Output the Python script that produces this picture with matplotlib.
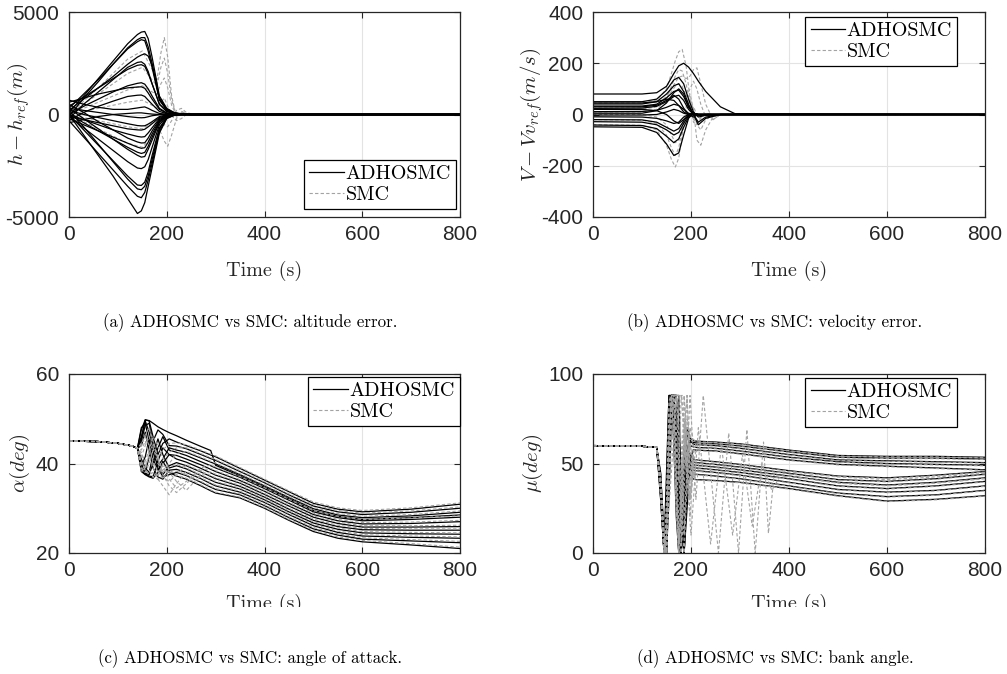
import matplotlib.pyplot as plt
from matplotlib.patches import Rectangle

plt.rcParams['font.family'] = 'Liberation Sans'
plt.rcParams['mathtext.fontset'] = 'cm'
plt.rcParams['axes.unicode_minus'] = False

# ---------------- altitude error (m) ----------------
t_alt = [0, 30, 60, 90, 120, 140, 148, 155, 162, 170, 185, 200, 215, 230, 250, 270, 800]
alt_adhosmc = [
    [100, 900, 1750, 2600, 3450, 3900, 4020, 4050, 3700, 2800, 900, 300, 100, 30, 0, 0, 0],
    [-100, 800, 1600, 2450, 3250, 3650, 3750, 3750, 3300, 2500, 750, 250, 80, 20, 0, 0, 0],
    [300, 1000, 1700, 2450, 3200, 3550, 3650, 3600, 3100, 2300, 700, 200, 60, 10, 0, 0, 0],
    [200, 750, 1300, 1850, 2450, 2800, 2900, 2960, 2850, 2400, 800, 250, 80, 20, 0, 0, 0],
    [-200, 500, 1100, 1700, 2300, 2540, 2570, 2450, 2100, 1500, 500, 150, 40, 0, 0, 0, 0],
    [400, 850, 1300, 1750, 2200, 2400, 2430, 2350, 2000, 1500, 500, 150, 40, 0, 0, 0, 0],
    [0, 400, 750, 1100, 1400, 1520, 1550, 1480, 1250, 900, 300, 80, 20, 0, 0, 0, 0],
    [600, 800, 1000, 1150, 1300, 1340, 1350, 1280, 1050, 750, 250, 60, 20, 0, 0, 0, 0],
    [-300, 100, 400, 650, 880, 940, 950, 880, 700, 500, 150, 40, 10, 0, 0, 0, 0],
    [700, 500, 350, 250, 250, 320, 350, 370, 300, 200, 50, 10, 0, 0, 0, 0, 0],
    [-400, -250, -100, 0, 50, 80, 80, 60, 40, 20, 0, 0, 0, 0, 0, 0, 0],
    [300, 200, 100, 0, -100, -150, -160, -150, -110, -60, -10, 0, 0, 0, 0, 0, 0],
    [200, 0, -150, -300, -450, -540, -555, -550, -470, -350, -100, -20, 0, 0, 0, 0, 0],
    [-100, -250, -400, -550, -700, -750, -760, -720, -600, -450, -150, -30, 0, 0, 0, 0, 0],
    [0, -250, -500, -750, -950, -1070, -1100, -1080, -900, -650, -200, -50, -10, 0, 0, 0, 0],
    [500, 100, -350, -750, -1150, -1340, -1390, -1380, -1150, -800, -250, -60, -10, 0, 0, 0, 0],
    [-200, -500, -800, -1100, -1400, -1590, -1650, -1620, -1350, -950, -300, -70, -10, 0, 0, 0, 0],
    [0, -400, -800, -1200, -1600, -1840, -1900, -1850, -1550, -1100, -350, -80, -10, 0, 0, 0, 0],
    [300, -200, -700, -1200, -1700, -1990, -2080, -2050, -1700, -1250, -400, -90, -20, 0, 0, 0, 0],
    [-100, -650, -1200, -1750, -2300, -2610, -2640, -2550, -2200, -1600, -500, -100, -20, 0, 0, 0, 0],
    [0, -750, -1500, -2250, -3000, -3440, -3460, -3300, -2800, -2000, -650, -150, -30, 0, 0, 0, 0],
    [200, -600, -1450, -2300, -3150, -3630, -3670, -3500, -3000, -2200, -700, -150, -30, 0, 0, 0, 0],
    [-300, -1100, -1900, -2700, -3500, -3990, -4060, -3800, -3200, -2400, -800, -180, -30, 0, 0, 0, 0],
    [0, -1000, -2000, -3000, -4100, -4830, -4700, -4300, -3500, -2600, -900, -200, -40, 0, 0, 0, 0],
]
t_alt_smc = [0, 60, 120, 150, 170, 180, 188, 195, 202, 210, 220, 230, 240, 255, 800]
alt_smc = [
    [0, 1300, 2700, 3100, 2200, 1700, 3000, 3750, 2800, 900, -150, 150, 50, 0, 0],
    [0, 1000, 2000, 2300, 1700, 1400, 2300, 2750, 2000, 700, -100, 100, 30, 0, 0],
    [0, 600, 1200, 1400, 1100, 1000, 1500, 1780, 1300, 450, -50, 80, 20, 0, 0],
    [0, -700, -1400, -1600, -1100, -600, -900, -1300, -1550, -1000, -200, 150, 0, 0, 0],
    [0, -300, -600, -700, -400, -200, -300, -500, -600, -300, 200, 300, 100, 0, 0],
    [0, 300, 600, 700, 450, 300, 600, 800, 400, 0, -300, -200, 0, 0, 0],
]

# ---------------- velocity error (m/s) ----------------
t_vel = [0, 100, 130, 150, 165, 175, 185, 195, 205, 215, 230, 260, 290, 800]
vel_adhosmc = [
    [80, 80, 85, 110, 160, 190, 200, 185, 160, 130, 90, 30, 3, 0],
    [50, 50, 60, 95, 135, 145, 120, 60, 10, -10, -3, 0, 0, 0],
    [41, 41, 50, 80, 112, 120, 90, 40, 0, -30, -10, 0, 0, 0],
    [33, 33, 40, 65, 90, 95, 70, 30, 5, 0, 0, 0, 0, 0],
    [24, 25, 32, 50, 70, 75, 55, 20, 0, -5, 0, 0, 0, 0],
    [11, 12, 16, 28, 40, 35, 20, 5, 0, 0, 0, 0, 0, 0],
    [-2, -2, 0, 10, 20, 15, 5, 0, 0, 0, 0, 0, 0, 0],
    [-9, -10, -15, -25, -35, -30, -10, 0, 0, 0, 0, 0, 0, 0],
    [-28, -30, -40, -60, -80, -70, -35, -5, 0, 0, 0, 0, 0, 0],
    [-41, -43, -55, -85, -110, -95, -50, -10, 5, 0, 0, 0, 0, 0],
    [-48, -50, -70, -115, -160, -150, -80, -15, 5, 0, 0, 0, 0, 0],
    [20, 20, 15, 0, -25, -35, -20, -5, 0, 0, 0, 0, 0, 0],
    [5, 5, 15, 45, 85, 100, 80, 30, 0, -40, -15, 0, 0, 0],
    [45, 45, 50, 60, 55, 35, 10, 0, 0, 0, 0, 0, 0, 0],
    [30, 30, 36, 55, 75, 60, 25, 0, -10, 0, 0, 0, 0, 0],
    [-20, -21, -30, -50, -65, -55, -25, 0, 5, 0, 0, 0, 0, 0],
]
t_vel_smc = [0, 100, 130, 150, 160, 168, 175, 182, 190, 198, 205, 212, 220, 230, 245, 260, 800]
vel_smc = [
    [45, 45, 55, 100, 160, 210, 245, 254, 190, 60, -30, -40, -15, 5, 0, 0, 0],
    [30, 30, 40, 70, 100, 125, 145, 150, 140, 150, 175, 182, 120, 40, -20, 0, 0],
    [-40, -42, -60, -120, -175, -205, -170, -80, 30, 80, 20, -100, -120, -60, -10, 0, 0],
    [10, 10, 20, 60, 110, 150, 175, 170, 120, 40, -20, -30, -10, 0, 0, 0, 0],
    [-20, -22, -35, -80, -130, -160, -130, -60, 10, 40, 30, 0, -10, 0, 0, 0, 0],
    [20, 20, 30, 60, 90, 110, 120, 110, 70, 100, 130, 100, 40, -10, -20, 0, 0],
    [0, 0, -10, -40, -80, -110, -100, -50, 20, 60, 20, -40, -60, -20, 0, 0, 0],
]

# ---------------- angle of attack (deg) ----------------
t_aoa = [0, 60, 100, 130, 140, 148, 156, 164, 172, 182, 192, 205, 220,
         240, 270, 290, 300, 350, 400, 450, 500, 550, 600, 700, 800]
aoa_adhosmc = [
    [45.0, 44.9, 44.5, 43.9, 43.4, 47.5, 49.8, 49.5, 46.0, 42.0, 44.5, 45.5, 44.8,
     44.0, 42.8, 41.9, 41.5, 38.9, 36.3, 33.7, 31.1, 29.8, 29.2, 29.8, 30.9],
    [45.0, 44.9, 44.5, 43.9, 43.4, 39.0, 38.0, 41.5, 45.0, 47.5, 46.5, 44.0, 43.9,
     43.3, 42.0, 41.1, 40.7, 38.2, 35.7, 33.0, 30.5, 29.2, 28.6, 29.1, 30.0],
    [45.0, 44.9, 44.5, 43.9, 43.4, 46.0, 49.5, 47.0, 43.0, 39.5, 41.0, 43.5, 43.0,
     42.5, 41.2, 40.3, 39.9, 37.5, 35.0, 32.4, 29.9, 28.5, 27.9, 28.3, 29.1],
    [45.0, 44.9, 44.5, 43.9, 43.4, 40.0, 37.8, 37.5, 40.0, 43.5, 46.0, 43.0, 42.5,
     41.8, 40.4, 39.5, 39.0, 36.9, 34.4, 31.8, 29.2, 27.9, 27.2, 27.5, 28.0],
    [45.0, 44.9, 44.5, 43.9, 43.4, 48.0, 49.0, 45.0, 41.0, 38.5, 40.0, 42.0, 41.8,
     41.0, 39.7, 38.7, 38.2, 36.2, 33.8, 31.1, 28.6, 27.2, 26.5, 26.6, 27.0],
    [45.0, 44.9, 44.5, 43.9, 43.4, 38.5, 37.6, 37.2, 37.0, 40.5, 43.5, 42.0, 41.0,
     40.3, 38.9, 37.9, 37.4, 35.6, 33.1, 30.5, 28.0, 26.6, 25.8, 25.8, 25.9],
    [45.0, 44.9, 44.5, 43.9, 43.4, 45.0, 48.5, 49.0, 44.5, 40.0, 37.5, 39.5, 40.2,
     39.5, 38.1, 37.1, 36.6, 34.9, 32.5, 29.8, 27.3, 25.9, 25.2, 25.1, 25.1],
    [45.0, 44.9, 44.5, 43.9, 43.4, 41.0, 39.0, 38.0, 42.0, 45.5, 42.0, 39.0, 39.5,
     38.8, 37.3, 36.3, 35.8, 34.3, 31.9, 29.2, 26.7, 25.3, 24.5, 24.3, 24.2],
    [45.0, 44.9, 44.5, 43.9, 43.4, 44.0, 47.0, 43.0, 39.0, 37.0, 36.5, 38.5, 38.7,
     38.0, 36.6, 35.5, 35.0, 33.6, 31.3, 28.6, 26.1, 24.6, 23.8, 23.5, 23.3],
    [45.0, 44.9, 44.5, 43.9, 43.4, 39.5, 41.5, 45.5, 43.0, 39.0, 37.0, 37.5, 38.0,
     37.3, 35.8, 34.7, 34.2, 33.0, 30.6, 27.9, 25.4, 24.0, 23.1, 22.7, 22.3],
    [45.0, 44.9, 44.5, 43.9, 43.4, 38.2, 37.5, 37.0, 36.7, 38.0, 40.5, 38.0, 37.2,
     36.5, 35.0, 33.9, 33.4, 32.3, 30.0, 27.3, 24.8, 23.3, 22.5, 21.8, 21.0],
    [45.0, 44.9, 44.5, 43.9, 43.4, 45.5, 49.7, 49.6, 49.0, 48.2, 47.6, 46.9, 46.2,
     45.2, 43.8, 42.9, 39.6, 37.2, 34.7, 32.1, 29.5, 28.2, 27.5, 27.9, 28.5],
]
aoa_smc = [
    [45.0, 44.9, 44.5, 43.9, 43.4, 44.0, 46.5, 48.0, 45.0, 41.5, 43.0, 44.5, 44.6,
     44.2, 43.0, 42.1, 41.7, 39.1, 36.5, 33.9, 31.4, 30.1, 29.5, 30.1, 31.2],
    [45.0, 44.9, 44.5, 43.9, 43.4, 42.0, 40.5, 43.0, 46.0, 44.0, 41.0, 42.5, 43.5,
     43.5, 42.2, 41.3, 40.9, 38.4, 35.9, 33.2, 30.8, 29.5, 28.9, 29.4, 30.3],
    [45.0, 44.9, 44.5, 43.9, 43.4, 40.5, 39.0, 42.0, 44.5, 41.0, 38.5, 40.0, 42.2,
     42.7, 41.4, 40.5, 40.1, 37.7, 35.2, 32.6, 30.2, 28.8, 28.2, 28.6, 29.4],
    [45.0, 44.9, 44.5, 43.9, 43.4, 44.5, 46.0, 44.0, 40.5, 38.0, 39.5, 36.5, 34.5,
     36.0, 39.0, 39.7, 39.2, 37.1, 34.6, 32.0, 29.5, 28.2, 27.5, 27.8, 28.3],
    [45.0, 44.9, 44.5, 43.9, 43.4, 39.0, 38.0, 40.0, 43.0, 41.5, 37.5, 35.0, 33.5,
     35.5, 38.5, 38.9, 38.4, 36.4, 34.0, 31.3, 28.9, 27.5, 26.8, 26.9, 27.3],
    [45.0, 44.9, 44.5, 43.9, 43.4, 43.0, 45.0, 42.0, 39.0, 37.0, 40.0, 38.0, 36.0,
     34.0, 37.5, 38.1, 37.6, 35.8, 33.3, 30.7, 28.3, 26.9, 26.1, 26.1, 26.2],
    [45.0, 44.9, 44.5, 43.9, 43.4, 38.0, 39.5, 41.5, 40.0, 38.5, 36.5, 38.5, 37.5,
     39.7, 38.3, 37.3, 36.8, 35.1, 32.7, 30.0, 27.6, 26.2, 25.5, 25.4, 25.4],
    [45.0, 44.9, 44.5, 43.9, 43.4, 41.5, 44.0, 46.0, 43.5, 40.0, 38.0, 39.3, 39.8,
     39.0, 37.5, 36.5, 36.0, 34.5, 32.1, 29.4, 27.0, 25.6, 24.8, 24.6, 24.5],
    [45.0, 44.9, 44.5, 43.9, 43.4, 40.0, 38.5, 37.5, 38.0, 36.5, 35.0, 33.0, 35.5,
     38.2, 36.8, 35.7, 35.2, 33.8, 31.5, 28.8, 26.4, 24.9, 24.1, 23.8, 23.6],
    [45.0, 44.9, 44.5, 43.9, 43.4, 42.5, 40.0, 38.5, 37.0, 37.5, 38.5, 37.8, 38.3,
     37.5, 36.0, 34.9, 34.4, 33.2, 30.8, 28.1, 25.7, 24.3, 23.4, 23.0, 22.6],
    [45.0, 44.9, 44.5, 43.9, 43.4, 39.0, 38.0, 38.5, 37.0, 36.5, 37.0, 36.0, 37.4,
     36.7, 35.2, 34.1, 33.6, 32.5, 30.2, 27.5, 25.1, 23.6, 22.8, 22.1, 21.3],
]

# ---------------- bank angle (deg) ----------------
t_bank = [0, 60, 100, 130, 138, 145, 150, 155, 160, 165, 170, 175, 180, 186, 192, 198, 205,
          210, 250, 300, 400, 500, 600, 700, 800]
bank_adhosmc = [
    [60.0, 59.9, 59.6, 59.0, 38, 2, 45, 88, 88, 70, 30, 0, 20, 55, 70, 64, 62.8,
     62.5, 62.0, 61.0, 57.5, 54.5, 54.0, 54.0, 53.5],
    [60.0, 59.9, 59.6, 59.0, 30, 0, 20, 70, 88, 88, 88, 55, 15, 0, 40, 62, 61.8,
     61.5, 61.0, 59.8, 56.5, 53.5, 53.0, 53.0, 52.5],
    [60.0, 59.9, 59.6, 59.0, 42, 5, 0, 50, 88, 88, 60, 20, 0, 30, 58, 63, 60.8,
     60.5, 60.0, 58.5, 55.0, 52.0, 51.5, 51.0, 50.5],
    [60.0, 59.9, 59.6, 59.0, 35, 0, 35, 88, 88, 75, 35, 5, 10, 50, 66, 60, 59.3,
     59.0, 58.5, 57.0, 53.5, 51.0, 50.0, 49.5, 49.0],
    [60.0, 59.9, 59.6, 59.0, 45, 10, 0, 30, 75, 88, 88, 88, 40, 0, 25, 52, 57.8,
     57.5, 57.0, 55.5, 52.0, 49.5, 48.5, 47.5, 46.5],
    [60.0, 59.9, 59.6, 59.0, 33, 0, 10, 60, 88, 88, 50, 10, 0, 35, 60, 55, 52.3,
     52.0, 51.0, 49.5, 46.0, 43.0, 42.0, 43.5, 45.5],
    [60.0, 59.9, 59.6, 59.0, 40, 3, 30, 80, 88, 60, 20, 0, 25, 60, 55, 51, 50.8,
     50.5, 49.5, 48.0, 44.5, 41.0, 40.0, 41.5, 44.0],
    [60.0, 59.9, 59.6, 59.0, 36, 0, 5, 55, 88, 88, 88, 45, 5, 20, 50, 52, 49.3,
     49.0, 48.0, 46.5, 43.0, 39.5, 38.0, 39.5, 42.0],
    [60.0, 59.9, 59.6, 59.0, 44, 8, 0, 40, 85, 88, 70, 25, 0, 40, 55, 49, 47.8,
     47.5, 46.5, 45.0, 41.5, 37.5, 36.0, 37.5, 40.0],
    [60.0, 59.9, 59.6, 59.0, 31, 0, 25, 75, 88, 80, 40, 8, 15, 45, 52, 47, 46.3,
     46.0, 45.0, 43.5, 39.5, 35.5, 34.0, 35.0, 37.5],
    [60.0, 59.9, 59.6, 59.0, 39, 2, 0, 45, 88, 88, 88, 60, 20, 0, 35, 48, 44.3,
     44.0, 43.0, 41.5, 37.5, 33.5, 31.5, 32.5, 35.0],
    [60.0, 59.9, 59.6, 59.0, 37, 0, 15, 65, 88, 88, 55, 15, 0, 25, 45, 44, 41.3,
     41.0, 40.5, 39.5, 36.0, 32.0, 29.0, 30.0, 32.0],
]
bank_smc = [
    [60.0, 59.9, 59.6, 59.0, 40, 5, 0, 30, 70, 88, 88, 88, 60, 20, 45, 70, 63.5,
     62.2, 61.7, 60.7, 57.2, 54.2, 53.7, 53.7, 53.2],
    [60.0, 59.9, 59.6, 59.0, 33, 0, 15, 55, 88, 88, 70, 40, 88, 88, 50, 30, 55.0,
     61.2, 60.7, 59.5, 56.2, 53.2, 52.7, 52.7, 52.2],
    [60.0, 59.9, 59.6, 59.0, 38, 2, 10, 65, 88, 60, 25, 0, 30, 70, 88, 40, 58.0,
     60.2, 59.7, 58.2, 54.7, 51.7, 51.2, 50.7, 50.2],
    [60.0, 59.9, 59.6, 59.0, 42, 6, 0, 45, 88, 88, 88, 50, 5, 35, 75, 66, 60.0,
     58.7, 58.2, 56.7, 53.2, 50.7, 49.7, 49.2, 48.7],
    [60.0, 59.9, 59.6, 59.0, 34, 0, 25, 80, 88, 70, 30, 0, 40, 88, 60, 20, 50.0,
     57.2, 56.7, 55.2, 51.7, 49.2, 48.2, 47.2, 46.2],
    [60.0, 59.9, 59.6, 59.0, 37, 0, 5, 50, 88, 88, 60, 15, 0, 50, 70, 45, 54.0,
     51.7, 50.7, 49.2, 45.7, 42.7, 41.7, 43.2, 45.2],
    [60.0, 59.9, 59.6, 59.0, 43, 7, 0, 35, 80, 88, 88, 65, 20, 0, 40, 62, 48.0,
     50.2, 49.2, 47.7, 44.2, 40.7, 39.7, 41.2, 43.7],
    [60.0, 59.9, 59.6, 59.0, 32, 0, 20, 70, 88, 80, 40, 5, 25, 65, 50, 35, 52.0,
     48.7, 47.7, 46.2, 42.7, 39.2, 37.7, 39.2, 41.7],
    [60.0, 59.9, 59.6, 59.0, 39, 3, 0, 55, 88, 88, 50, 10, 10, 55, 88, 50, 44.0,
     47.2, 46.2, 44.7, 41.2, 37.2, 35.7, 37.2, 39.7],
    [60.0, 59.9, 59.6, 59.0, 36, 0, 30, 85, 88, 65, 25, 0, 35, 75, 45, 30, 49.0,
     45.7, 44.7, 43.2, 39.2, 35.2, 33.7, 34.7, 37.2],
    [60.0, 59.9, 59.6, 59.0, 41, 4, 0, 40, 85, 88, 88, 70, 30, 10, 50, 60, 42.0,
     43.7, 42.7, 41.2, 37.2, 33.2, 31.2, 32.2, 34.7],
    [60.0, 59.9, 59.6, 59.0, 35, 0, 12, 60, 88, 88, 45, 5, 15, 60, 40, 30, 45.0,
     40.7, 40.2, 39.2, 35.7, 31.7, 28.7, 29.7, 31.7],
]
# two SMC runs that keep oscillating after the others settle
t_bank_osc1 = [0, 100, 130, 140, 148, 160, 172, 181, 192, 198, 210, 225, 256, 277, 297, 314, 331,
               348, 358, 370, 400, 500, 600, 700, 800]
bank_osc1 = [60.0, 59.6, 59.0, 30, 0, 60, 88, 88, 50, 88, 30, 88, 0, 67, 0, 69, 0,
             62, 11, 45, 45.5, 42.5, 41.0, 42.5, 44.5]
t_bank_osc2 = [0, 100, 130, 140, 148, 160, 170, 180, 200, 215, 240, 262, 285, 305, 325, 345,
               365, 380, 400, 500, 600, 700, 800]
bank_osc2 = [60.0, 59.6, 59.0, 35, 0, 45, 88, 88, 10, 70, 5, 60, 10, 55, 15, 50,
             35, 42, 43.0, 39.0, 37.5, 39.0, 41.5]

# ---------------- drawing ----------------
BLACK = dict(color='k', lw=0.9)
GRAY = dict(color='#a3a3a3', lw=0.8, ls=(0, (3, 2)))
W, H = 1007, 674

fig = plt.figure(figsize=(10.07, 6.74), dpi=100)


def add_axes(left, top, right, bottom):
    return fig.add_axes([left / W, 1 - bottom / H, (right - left) / W, (bottom - top) / H])


def style(ax, ylim, yticks, ylabel, ylabel_x, xlabel_pad):
    ax.set_xlim(0, 800)
    ax.set_ylim(*ylim)
    ax.set_xticks([0, 200, 400, 600, 800])
    ax.set_yticks(yticks)
    ax.grid(True, color='#e3e3e3', lw=0.8)
    ax.set_axisbelow(True)
    ax.tick_params(direction='in', top=True, right=True, length=4, width=0.8,
                   labelsize=15, color='#262626', labelcolor='#262626')
    ax.tick_params(axis='x', pad=6)
    ax.tick_params(axis='y', pad=7)
    for s in ax.spines.values():
        s.set_color('#262626')
        s.set_linewidth(0.9)
    ax.set_xlabel('Time (s)', family='cmr10', fontsize=14.5, color='#262626', labelpad=xlabel_pad)
    ax.set_ylabel(ylabel, fontsize=15, color='#262626')
    ax.yaxis.set_label_coords(ylabel_x, 0.5)


def legend(ax, order, loc, anchor):
    h, l = ax.get_legend_handles_labels()
    h = [h[i] for i in order]
    l = [l[i] for i in order]
    leg = ax.legend(h, l, loc=loc, bbox_to_anchor=anchor, fancybox=False,
                    edgecolor='k', framealpha=1, borderpad=0.25, labelspacing=0.15,
                    handlelength=1.7, handletextpad=0.1, borderaxespad=0,
                    prop={'family': 'cmr10', 'size': 14.5})
    leg.get_frame().set_linewidth(0.9)


ax_a = add_axes(69, 12, 460, 217)
ax_b = add_axes(593, 12, 985, 217)
ax_c = add_axes(69, 374, 460, 553)
ax_d = add_axes(593, 374, 985, 553)

# (a) altitude: SMC drawn underneath
for i, y in enumerate(alt_smc):
    ax_a.plot(t_alt_smc, y, label='SMC' if i == 0 else None, **GRAY)
for i, y in enumerate(alt_adhosmc):
    ax_a.plot(t_alt, y, label='ADHOSMC' if i == 0 else None, **BLACK)
style(ax_a, (-5000, 5000), [-5000, 0, 5000], r'$h-h_{ref}(m)$', -0.095, 12)
legend(ax_a, [1, 0], 'lower right', (0.99, 0.04))

# (b) velocity
for i, y in enumerate(vel_smc):
    ax_b.plot(t_vel_smc, y, label='SMC' if i == 0 else None, **GRAY)
for i, y in enumerate(vel_adhosmc):
    ax_b.plot(t_vel, y, label='ADHOSMC' if i == 0 else None, **BLACK)
style(ax_b, (-400, 400), [-400, -200, 0, 200, 400], r'$V-Vv_{ref}(m/s)$', -0.122, 12)
legend(ax_b, [1, 0], 'upper right', (0.929, 0.976))

# (c) angle of attack: SMC drawn on top
for i, y in enumerate(aoa_adhosmc):
    ax_c.plot(t_aoa, y, label='ADHOSMC' if i == 0 else None, **BLACK)
for i, y in enumerate(aoa_smc):
    ax_c.plot(t_aoa, y, label='SMC' if i == 0 else None, **GRAY)
style(ax_c, (20, 60), [20, 40, 60], r'$\alpha(deg)$', -0.095, 10)
legend(ax_c, [0, 1], 'upper right', (1.0, 0.983))

# (d) bank angle
for i, y in enumerate(bank_adhosmc):
    ax_d.plot(t_bank, y, label='ADHOSMC' if i == 0 else None, **BLACK)
for i, y in enumerate(bank_smc):
    ax_d.plot(t_bank, y, label='SMC' if i == 0 else None, **GRAY)
ax_d.plot(t_bank_osc1, bank_osc1, **GRAY)
ax_d.plot(t_bank_osc2, bank_osc2, **GRAY)
style(ax_d, (0, 100), [0, 50, 100], r'$\mu(deg)$', -0.122, 10)
legend(ax_d, [0, 1], 'upper right', (0.929, 0.978))

# bottom row x labels are cut off below this line
fig.patches.append(Rectangle((0, 1 - 630 / H), 1, 23 / H, transform=fig.transFigure,
                             facecolor='white', edgecolor='none', zorder=10))

captions = [
    (250, 323, '(a) ADHOSMC vs SMC: altitude error.'),
    (775, 323, '(b) ADHOSMC vs SMC: velocity error.'),
    (250, 659, '(c) ADHOSMC vs SMC: angle of attack.'),
    (775, 659, '(d) ADHOSMC vs SMC: bank angle.'),
]
for x, y, s in captions:
    fig.text(x / W, 1 - y / H, s, family='cmr10', fontsize=12.2, ha='center', va='center')

fig.savefig('out.png', dpi=100)
